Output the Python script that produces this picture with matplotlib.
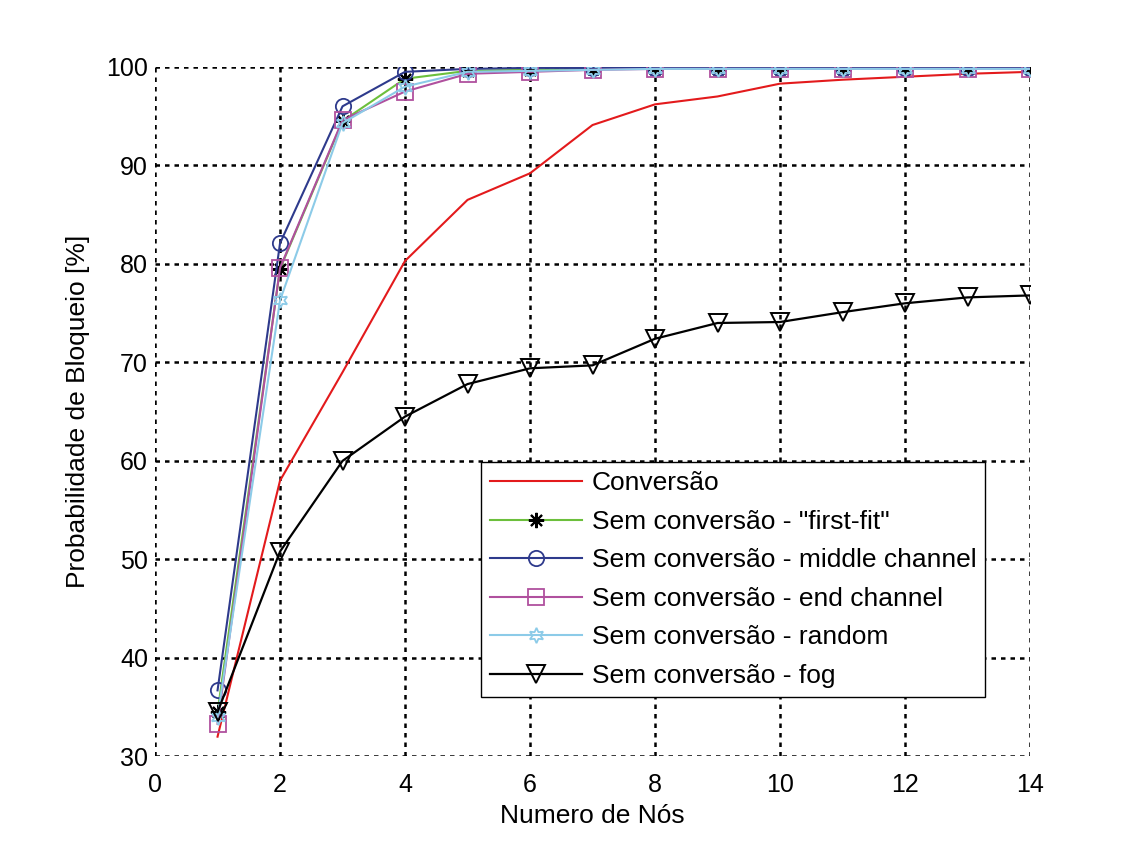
import matplotlib
matplotlib.use("Agg")
import matplotlib.pyplot as plt

plt.rcParams['font.family'] = ['Liberation Sans', 'DejaVu Sans']

nodes = [1, 2, 3, 4, 5, 6, 7, 8, 9, 10, 11, 12, 13, 14]
conversao = [32.0, 58.0, 69.0, 80.3, 86.5, 89.2, 94.1, 96.2, 97.0, 98.3, 98.7, 99.0, 99.3, 99.5]
first_fit = [34.5, 79.5, 94.5, 98.8, 99.6, 99.7, 99.8, 99.8, 99.8, 99.8, 99.8, 99.9, 99.9, 99.9]
middle = [36.7, 82.1, 96.0, 99.5, 99.8, 99.9, 99.9, 99.9, 99.9, 99.9, 99.9, 99.9, 99.9, 99.9]
end_ch = [33.3, 79.6, 94.6, 97.5, 99.3, 99.5, 99.7, 99.8, 99.8, 99.8, 99.8, 99.8, 99.8, 99.8]
random_ch = [34.0, 76.3, 94.3, 98.0, 99.5, 99.6, 99.7, 99.8, 99.8, 99.8, 99.8, 99.8, 99.8, 99.8]
fog = [34.5, 50.8, 60.0, 64.5, 67.8, 69.4, 69.7, 72.4, 74.0, 74.1, 75.1, 76.0, 76.6, 76.8]

xticks = [0, 2, 4, 6, 8, 10, 12, 14]
yticks = [30, 40, 50, 60, 70, 80, 90, 100]

fig = plt.figure(figsize=(11.35, 8.47), dpi=100)
ax = fig.add_axes([0.1366, 0.107, 0.7709, 0.814])

ms = 11
ax.plot(nodes, conversao, color='#e31a1c', lw=1.5, label='Conversão')
ax.plot(nodes, first_fit, color='#6cbf3c', lw=1.5, marker=(8, 2, 0), ms=ms, mfc='black',
        mec='black', mew=1.5, label='Sem conversão - "first-fit"')
ax.plot(nodes, middle, color='#2e3a8c', lw=1.5, marker='o', ms=ms, mfc='none',
        mec='#2e3a8c', mew=1.3, label='Sem conversão - middle channel')
ax.plot(nodes, end_ch, color='#b0509e', lw=1.5, marker='s', ms=ms, mfc='none',
        mec='#b0509e', mew=1.3, label='Sem conversão - end channel')
ax.plot(nodes, random_ch, color='#8ccbe8', lw=1.5, marker=(6, 1, 0), ms=ms, mfc='none',
        mec='#8ccbe8', mew=1.3, label='Sem conversão - random')
ax.plot(nodes, fog, color='black', lw=1.6, marker='v', ms=ms + 2, mfc='none',
        mec='black', mew=1.4, label='Sem conversão - fog')

ax.set_xlim(0, 14)
ax.set_ylim(30, 100)
ax.set_xticks(xticks)
ax.set_yticks(yticks)
ax.tick_params(labelsize=18, length=0)
ax.tick_params(axis='x', pad=12)
ax.tick_params(axis='y', pad=5)
for s in ax.spines.values():
    s.set_visible(False)
ax.grid(True, color='black', linestyle=(0, (1.8, 2.0)), lw=1.8)
ax.set_axisbelow(True)

ax.set_xlabel('Numero de Nós', fontsize=19, labelpad=5)
ax.set_ylabel('Probabilidade de Bloqueio [%]', fontsize=19, labelpad=12)

leg = ax.legend(loc='lower right', bbox_to_anchor=(0.949, 0.086), fontsize=19,
                frameon=True, fancybox=False, edgecolor='black', framealpha=1,
                borderpad=0.35, labelspacing=0.55, handlelength=3.5, handletextpad=0.35,
                borderaxespad=0)
leg.get_frame().set_linewidth(1.0)

fig.savefig('out.png', dpi=100)
